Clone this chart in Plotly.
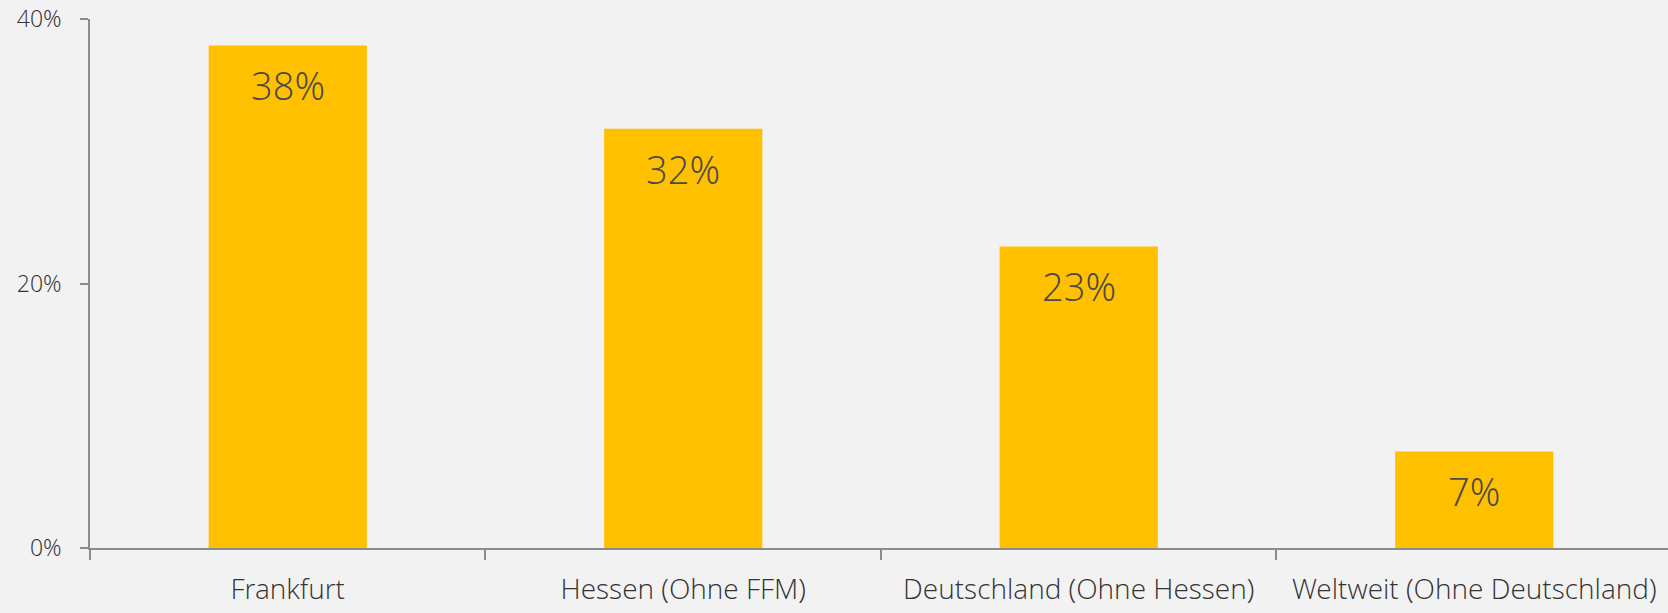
import plotly.graph_objects as go

categories = ["Frankfurt", "Hessen (Ohne FFM)", "Deutschland (Ohne Hessen)", "Weltweit (Ohne Deutschland)"]
values = [38.0, 31.7, 22.8, 7.3]
y_ticks = [0, 20, 40]

FONT = "Segoe UI Light, Open Sans Light, Lato Light, Open Sans, sans-serif"
AXIS_COLOR = "#8c8c8c"

fig = go.Figure()
fig.add_trace(go.Bar(
    x=categories, y=values,
    marker=dict(color="#FFC000", line=dict(width=0)),
    hoverinfo="skip",
))

for c, v in zip(categories, values):
    fig.add_annotation(
        x=c, y=v, text=f"{round(v)}%", showarrow=False,
        yanchor="middle", yshift=-40,
        font=dict(family=FONT, size=38, color="#4a4a4a", weight=300),
    )

fig.update_layout(
    width=1668, height=613,
    margin=dict(l=90, r=0, t=19, b=65),
    paper_bgcolor="#f2f2f2", plot_bgcolor="#f2f2f2",
    bargap=0.6,
    showlegend=False,
    font=dict(family=FONT, color="#404040", weight=300),
)
fig.update_xaxes(
    range=[-0.5, 3.49],
    showline=True, linecolor=AXIS_COLOR, linewidth=1.5,
    ticks="outside", tickson="boundaries", ticklen=10, tickcolor=AXIS_COLOR, tickwidth=1.5,
    tickfont=dict(family=FONT, size=28, color="#333333", weight=300),
    ticklabelstandoff=16,
    showgrid=False, zeroline=False,
)
fig.update_yaxes(
    range=[0, 40],
    tickvals=y_ticks, ticktext=[f"{t}%" for t in y_ticks],
    showline=True, linecolor=AXIS_COLOR, linewidth=1.5,
    ticks="outside", ticklen=8, tickcolor=AXIS_COLOR, tickwidth=1.5,
    tickfont=dict(family=FONT, size=23, color="#333333", weight=300),
    ticklabelstandoff=14,
    showgrid=False, zeroline=False,
)

fig.write_html(
    "out.html",
    config={"displayModeBar": False},
    post_script="document.body.style.margin='0';document.body.style.background='#f2f2f2';",
)
